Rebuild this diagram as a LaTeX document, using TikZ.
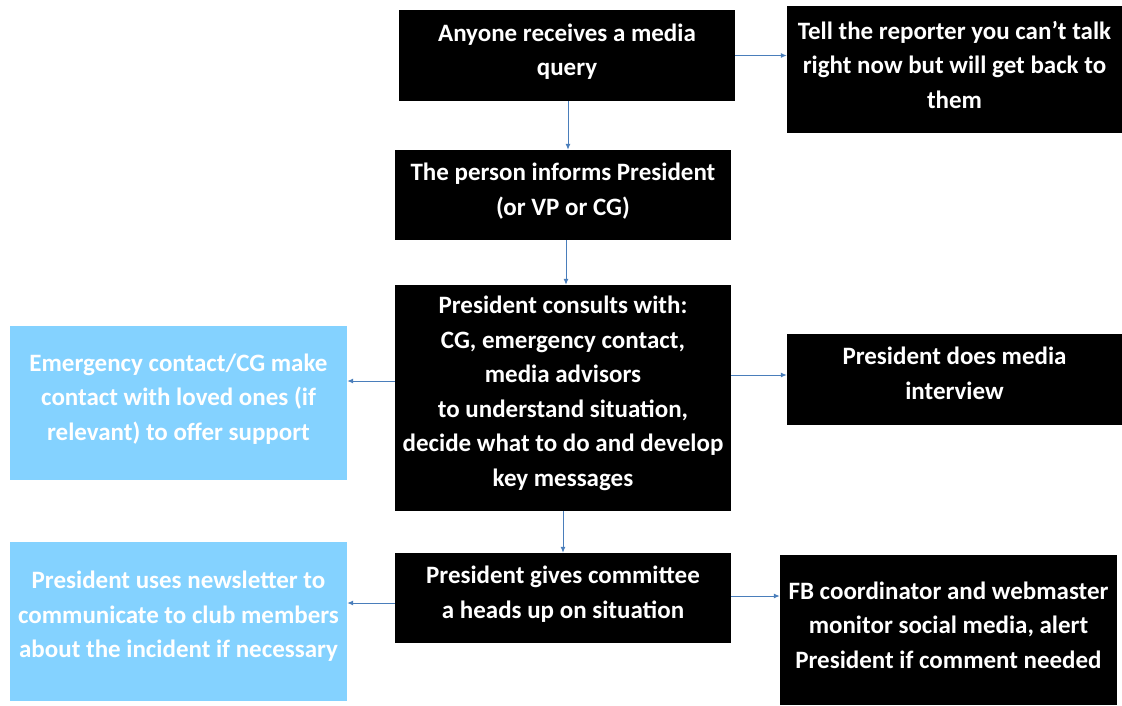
\documentclass[tikz,border=0pt]{standalone}
\usepackage{fontspec}
\setmainfont{Carlito}
\usetikzlibrary{arrows.meta}
\definecolor{arrblue}{HTML}{4A7EBB}
\definecolor{lblue}{HTML}{84D2FF}
\tikzset{
  blk/.style={fill=black, draw=none, inner sep=0pt},
  lbx/.style={fill=lblue, draw=none, inner sep=0pt},
  txt/.style={text=white, align=center, inner sep=0pt,
    font=\fontsize{25}{34.5}\selectfont\bfseries},
  arr/.style={draw=arrblue, line width=1pt, -{Latex[length=6pt,width=5pt]}}
}
\begin{document}
\begin{tikzpicture}[x=1pt,y=-1pt]
\useasboundingbox (0,0) rectangle (1122,705);
\node[blk, minimum width=336, minimum height=91] (a) at (567,55.5) {};
\node[blk, minimum width=335, minimum height=127] (b) at (954.5,69.5) {};
\node[blk, minimum width=336, minimum height=90] (c) at (563,195) {};
\node[blk, minimum width=336, minimum height=226] (d) at (563,398) {};
\node[lbx, minimum width=337, minimum height=154] (e) at (178.5,403) {};
\node[blk, minimum width=335, minimum height=91] (f) at (954.5,379.5) {};
\node[blk, minimum width=336, minimum height=90] (g) at (563,598) {};
\node[lbx, minimum width=337, minimum height=159] (h) at (178.5,621.5) {};
\node[blk, minimum width=337, minimum height=150] (i) at (948.5,630) {};
\node[txt] (ta) at ([yshift=4pt]a.center) {Anyone receives a media\\query};
\node[txt] (tb) at ([yshift=5pt]b.center) {Tell the reporter you can’t talk\\right now but will get back to\\them};
\node[txt] (tc) at ([yshift=4pt]c.center) {The person informs President\\(or VP or CG)};
\node[txt] (td) at ([yshift=4.5pt]d.center) {President consults with:\\CG, emergency contact,\\media advisors\\to understand situation,\\decide what to do and develop\\key messages};
\node[txt] (te) at ([yshift=4pt]e.center) {Emergency contact/CG make\\contact with loved ones (if\\relevant) to offer support};
\node[txt] (tf) at ([yshift=6pt]f.center) {President does media\\interview};
\node[txt] (tg) at ([yshift=4pt]g.center) {President gives committee\\a heads up on situation};
\node[txt] (th) at ([yshift=5pt]h.center) {President uses newsletter to\\communicate to club members\\about the incident if necessary};
\node[txt] (ti) at ([yshift=5pt]i.center) {FB coordinator and webmaster\\monitor social media, alert\\President if comment needed};
\draw[arr] (a.east) -- (a.east -| b.west);
\draw[arr] ([xshift=1pt]a.south) -- ([xshift=1pt]a.south |- c.north);
\draw[arr] ([xshift=3pt]c.south) -- ([xshift=3pt]c.south |- d.north);
\draw[arr] ([yshift=17pt]d.west) -- ([yshift=17pt]d.west -| e.east);
\draw[arr] ([yshift=23pt]d.east) -- ([yshift=23pt]d.east -| f.west);
\draw[arr] (d.south) -- (d.south |- g.north);
\draw[arr] ([yshift=-5pt]g.west) -- ([yshift=-5pt]g.west -| h.east);
\draw[arr] ([yshift=2pt]g.east) -- ([yshift=2pt]g.east -| i.west);
\end{tikzpicture}
\end{document}
